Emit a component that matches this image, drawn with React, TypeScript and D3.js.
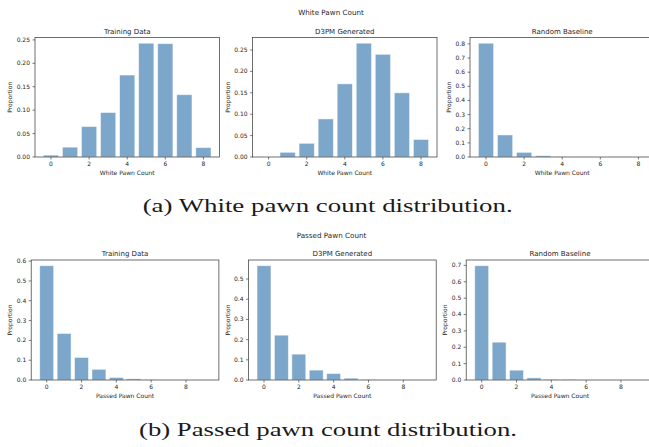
import React from 'react';
import * as d3 from 'd3';

const whiteCounts = [0, 1, 2, 3, 4, 5, 6, 7, 8];
const passedCounts = [0, 1, 2, 3, 4, 5, 6, 7, 8, 9];

const whiteTraining = [0.004, 0.021, 0.065, 0.095, 0.175, 0.243, 0.242, 0.133, 0.020];
const whiteD3PM = [0.0, 0.011, 0.032, 0.089, 0.171, 0.266, 0.240, 0.150, 0.041];
const whiteRandom = [0.805, 0.156, 0.033, 0.009, 0.001, 0, 0, 0, 0];

const passedTraining = [0.577, 0.235, 0.114, 0.054, 0.013, 0.006, 0.001, 0, 0, 0];
const passedD3PM = [0.566, 0.222, 0.128, 0.049, 0.032, 0.009, 0.002, 0, 0, 0];
const passedRandom = [0.698, 0.231, 0.060, 0.013, 0.004, 0.002, 0, 0, 0, 0];

const panelTitles = ['Training Data', 'D3PM Generated', 'Random Baseline'];
const xTickValues = [0, 2, 4, 6, 8];

const FONT = 'DejaVu Sans, sans-serif';
const BAR = '#7da7ca';
const INK = '#262626';

type PanelProps = {
  x: number; y: number; w: number; h: number;
  cats: number[]; vals: number[]; step: number;
  title: string; xlabel: string;
};

function Panel({ x, y, w, h, cats, vals, step, title, xlabel }: PanelProps) {
  const lo = -0.4, hi = cats.length - 1 + 0.4;
  const m = (hi - lo) * 0.05;
  const xs = d3.scaleLinear().domain([lo - m, hi + m]).range([0, w]);
  const ymax = (d3.max(vals) as number) * 1.05;
  const ys = d3.scaleLinear().domain([0, ymax]).range([h, 0]);
  const yt = d3.range(0, ymax + 1e-9, step);
  const fmt = d3.format(step < 0.1 ? '.2f' : '.1f');
  const labW = fmt(0).length === 4 ? 13.3 : 9.5;
  return (
    <g transform={`translate(${x},${y})`} fontFamily={FONT} fill={INK}>
      {vals.map((v, i) => (
        <rect key={i} x={xs(cats[i] - 0.4)} width={xs(0.8) - xs(0)}
          y={ys(v)} height={h - ys(v)} fill={BAR}
          stroke="#ffffff" strokeOpacity={0.6} strokeWidth={0.8} />
      ))}
      <rect x={0} y={0} width={w} height={h} fill="none" stroke="#333" strokeWidth={0.7} />
      {xTickValues.map(t => (
        <g key={t} transform={`translate(${xs(t)},${h})`}>
          <line y2={2.5} stroke={INK} strokeWidth={0.6} />
          <text y={9.2} textAnchor="middle" fontSize={6}>{t}</text>
        </g>
      ))}
      {yt.map(t => (
        <g key={t} transform={`translate(0,${ys(t)})`}>
          <line x2={-2.5} stroke={INK} strokeWidth={0.6} />
          <text x={-5} dy="0.33em" textAnchor="end" fontSize={6}>{fmt(t)}</text>
        </g>
      ))}
      <text x={w / 2} y={-4} textAnchor="middle" fontSize={7}>{title}</text>
      <text x={w / 2} y={h + 18} textAnchor="middle" fontSize={6}>{xlabel}</text>
      <text transform={`translate(${-(labW + 9.5)},${h / 2}) rotate(-90)`}
        textAnchor="middle" fontSize={6}>Proportion</text>
    </g>
  );
}

export default function App() {
  const row1 = [whiteTraining, whiteD3PM, whiteRandom];
  const row2 = [passedTraining, passedD3PM, passedRandom];
  const lefts1 = [35, 252.6, 470];
  const lefts2 = [31.2, 248.5, 466.2];
  const steps1 = [0.05, 0.05, 0.1];
  return (
    <svg width={649} height={447} style={{ position: 'absolute', left: 0, top: 0, background: '#fff' }}>
      <text x={331} y={15} textAnchor="middle" fontFamily={FONT} fontSize={7.2} fill={INK}>White Pawn Count</text>
      {row1.map((v, i) => (
        <Panel key={i} x={lefts1[i]} y={37.5} w={184.4} h={119.5}
          cats={whiteCounts} vals={v} step={steps1[i]}
          title={panelTitles[i]} xlabel="White Pawn Count" />
      ))}
      <text x={142.7} y={211.5} textLength={370} lengthAdjust="spacingAndGlyphs"
        fontFamily="Liberation Serif, serif" fontSize={19.5} fill="#1a1a1a">(a) White pawn count distribution.</text>

      <text x={331.5} y={238} textAnchor="middle" fontFamily={FONT} fontSize={7.2} fill={INK}>Passed Pawn Count</text>
      {row2.map((v, i) => (
        <Panel key={i} x={lefts2[i]} y={260} w={187.7} h={120}
          cats={passedCounts} vals={v} step={0.1}
          title={panelTitles[i]} xlabel="Passed Pawn Count" />
      ))}
      <text x={139} y={435.7} textLength={378} lengthAdjust="spacingAndGlyphs"
        fontFamily="Liberation Serif, serif" fontSize={19.5} fill="#1a1a1a">(b) Passed pawn count distribution.</text>
    </svg>
  );
}
